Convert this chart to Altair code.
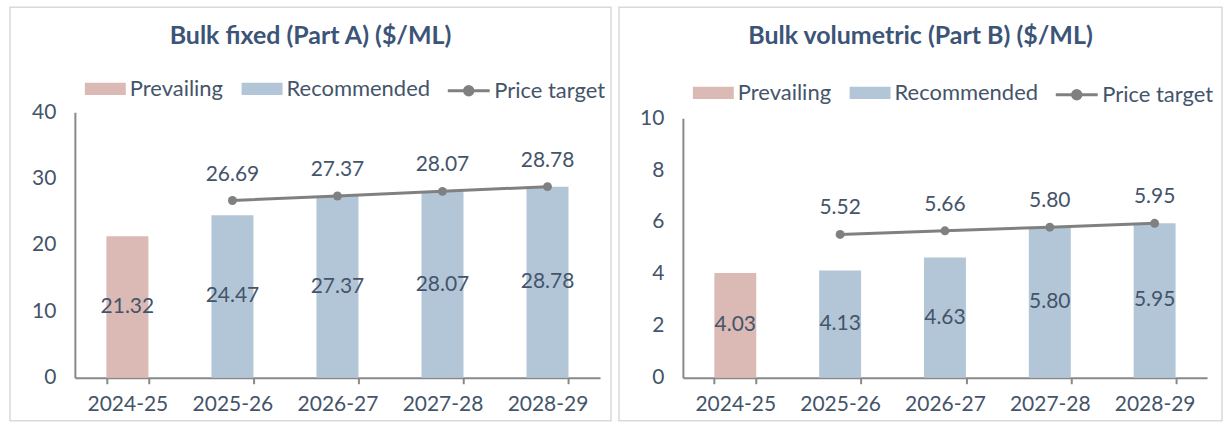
import altair as alt
import pandas as pd

years = ["2024-25", "2025-26", "2026-27", "2027-28", "2028-29"]
series = ["Prevailing", "Recommended", "Recommended", "Recommended", "Recommended"]
fixed_bar = [21.32, 24.47, 27.37, 28.07, 28.78]
fixed_target = [None, 26.69, 27.37, 28.07, 28.78]
vol_bar = [4.03, 4.13, 4.63, 5.80, 5.95]
vol_target = [None, 5.52, 5.66, 5.80, 5.95]

TXT = "#44546A"
TITLE = "#3B5477"
FONT = "Lato"
NUM = 21
RECT_PATH = "M-1,-0.3H1V0.3H-1Z"
LINE_PATH = "M-1,0H1M0.2,0A0.2,0.2 0 1 1 -0.2,0A0.2,0.2 0 1 1 0.2,0"
HEIGHT = 266


def panel(title, bars, targets, ymax, yvals, top_gap, width, box, legend_y, fmt):
    df = pd.DataFrame({
        "year": years, "series": series, "value": bars,
        "target": targets, "lt": ["Price target"] * len(years),
    })
    base = alt.Chart(df)
    xenc = alt.X("year:N", sort=years,
                 scale=alt.Scale(paddingInner=0.6, paddingOuter=0.3),
                 axis=alt.Axis(title=None, labelAngle=0, tickBand="extent",
                               labelFontSize=NUM, labelColor=TXT, labelFont=FONT,
                               domainColor="#898989", domainWidth=2,
                               tickColor="#898989", tickWidth=2, tickSize=6,
                               labelPadding=10))
    yenc = alt.Y("value:Q",
                 scale=alt.Scale(domain=[0, ymax], nice=False, range=[HEIGHT, top_gap]),
                 axis=alt.Axis(title=None, values=yvals, grid=False, ticks=False,
                               labelFontSize=NUM, labelColor=TXT, labelFont=FONT,
                               domainColor="#898989", domainWidth=2,
                               labelPadding=19))
    frame = alt.Chart(alt.Data(values=[{}])).mark_rect(
        fill="transparent", stroke="#D9D9D9", strokeWidth=1.5
    ).encode(x=alt.value(box[0]), x2=alt.value(box[1]),
             y=alt.value(box[2]), y2=alt.value(box[3]))
    bar = base.mark_bar().encode(
        x=xenc, y=yenc,
        fill=alt.Fill("series:N",
                      scale=alt.Scale(domain=["Prevailing", "Recommended"],
                                      range=["#DBBAB5", "#B3C6D8"]),
                      legend=alt.Legend(orient="none", legendX=10, legendY=legend_y,
                                        direction="horizontal", title=None,
                                        symbolType=RECT_PATH, symbolSize=1681,
                                        symbolStrokeWidth=0,
                                        labelFontSize=22, labelColor=TXT, labelFont=FONT,
                                        labelOffset=4, columnPadding=18, padding=0)),
    )
    lab = base.transform_calculate(mid="datum.value / 2").mark_text(
        fontSize=NUM, font=FONT, color=TXT
    ).encode(x=alt.X("year:N", sort=years), y="mid:Q",
             text=alt.Text("value:Q", format=fmt))
    tgt = base.transform_filter("datum.target != null")
    line = tgt.mark_line(strokeWidth=3).encode(
        x=alt.X("year:N", sort=years), y="target:Q",
        stroke=alt.Stroke("lt:N",
                          scale=alt.Scale(domain=["Price target"], range=["#808080"]),
                          legend=alt.Legend(orient="none", legendX=372, legendY=legend_y,
                                            title=None, symbolType=LINE_PATH,
                                            symbolSize=1764, symbolStrokeWidth=3,
                                            symbolFillColor="#808080",
                                            labelFontSize=22, labelColor=TXT,
                                            labelFont=FONT, labelOffset=3, padding=0)),
    )
    pts = tgt.mark_circle(size=80, color="#808080", opacity=1).encode(
        x=alt.X("year:N", sort=years), y="target:Q")
    tlab = tgt.mark_text(fontSize=NUM, font=FONT, color=TXT, dy=-26).encode(
        x=alt.X("year:N", sort=years), y="target:Q",
        text=alt.Text("target:Q", format=fmt))
    return alt.layer(frame, bar, lab, line, pts, tlab).properties(
        width=width, height=HEIGHT,
        title=alt.TitleParams(title, fontSize=25, font=FONT, fontWeight="bold",
                              color=TITLE, anchor="middle", frame="bounds",
                              baseline="middle", offset=-54),
    )


left = panel("Bulk fixed (Part A) ($/ML)", fixed_bar, fixed_target, 40,
             [0, 10, 20, 30, 40], 0, 526, (-65, 537, -105, 309), -44, ".2f")
right = panel("Bulk volumetric (Part B) ($/ML)", vol_bar, vol_target, 10,
              [0, 2, 4, 6, 8, 10], 6, 525, (-64, 540, -105, 309), -40, ".2f")

chart = alt.concat(left, right, columns=2, spacing=6).resolve_scale(
    fill="independent", stroke="independent"
).properties(
    padding={"left": 9, "top": 6, "right": 4, "bottom": 4},
    background="white",
).configure_view(stroke=None)

chart.save("out.html", embed_options={"renderer": "svg", "actions": False})
